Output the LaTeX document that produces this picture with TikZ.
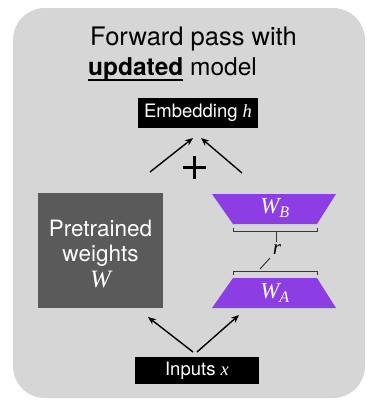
\documentclass[tikz,border=0pt]{standalone}
\usepackage{fontspec}
\setmainfont{TeX Gyre Heros}
\newfontfamily\mifont{Liberation Serif}
\newcommand\mv[1]{{\mifont\itshape #1}}
\newcommand\ulword[1]{\setbox0\hbox{#1}\rlap{\rule[-6pt]{\wd0}{1.9pt}}\box0\relax}
\usetikzlibrary{arrows.meta}
\definecolor{panel}{RGB}{214,214,214}
\definecolor{dgray}{RGB}{90,90,90}
\definecolor{lpurple}{RGB}{140,62,228}
\definecolor{brk}{RGB}{55,55,55}
\begin{document}
\begin{tikzpicture}[x=1pt,y=-1pt,
  blackbox/.style={fill=black,text=white,inner sep=0pt,font=\fontsize{18.5}{20}\selectfont},
  arr/.style={-{Stealth[length=8pt,width=6.5pt]},line width=1.4pt,black},
  brack/.style={line width=1pt,brk},
  trap/.style={fill=lpurple},
  wlab/.style={text=white,font=\fontsize{23}{25}\selectfont}]
\useasboundingbox (0,0) rectangle (367,400);
\fill[panel, rounded corners=32pt] (13,8) rectangle (365,398);
% title
\node[anchor=base west,inner sep=0pt,font=\fontsize{25.5}{29}\selectfont] (t1) at (90,45) {Forward pass with};
\node[anchor=base west,inner sep=0pt,font=\fontsize{24.5}{29}\selectfont] (t2) at (88,75) {\ulword{\textbf{updated}} model};
% embedding
\node[blackbox,minimum width=120pt,minimum height=30pt] (emb) at (198,113) {Embedding \mv{h}};
% plus
\node[minimum size=22pt,inner sep=0pt] (plus) at (194.5,167.5) {};
\draw[line width=2.3pt] (plus.west) -- (plus.east) (plus.north) -- (plus.south);
% pretrained
\node[fill=dgray,minimum width=125pt,minimum height=115pt,inner sep=0pt] (W) at (100.5,250.5) {};
\node[text=white,align=center,inner sep=0pt,font=\fontsize{22.5}{25}\selectfont] (Wt) at (100.5,254) {Pretrained\\weights\\[1pt]{\fontsize{25}{25}\selectfont\mv{W}}};
% trapezoids
\fill[trap] (212,194) -- (336,194) -- (317,224) -- (233,224) -- cycle;
\node[wlab] (WB) at (275,208) {\mv{W}\textsubscript{\mv{B}}};
\fill[trap] (233,278) -- (317,278) -- (336,308) -- (212,308) -- cycle;
\node[wlab] (WA) at (275,293) {\mv{W}\textsubscript{\mv{A}}};
% brackets
\draw[brack] (233,228) -- (233,231) -- (317,231) -- (317,228);
\draw[brack] (276,231) -- (276,242);
\node[inner sep=0pt,font=\fontsize{21}{22}\selectfont] (r) at (277,250) {\mv{r}};
\draw[brack] (233,275) -- (233,271) -- (317,271) -- (317,275);
\draw[brack] (260,269) -- (270,258);
% inputs
\node[blackbox,minimum width=124pt,minimum height=27pt] (in) at (197,370.5) {Inputs \mv{x}};
% arrows
\coordinate (a1s) at (150,172);
\coordinate (a1e) at (193,138);
\coordinate (a2s) at (242,173);
\coordinate (a2e) at (201,138);
\draw[arr] (a1s) -- (a1e);
\draw[arr] (a2s) -- (a2e);
\coordinate (b1s) at (193,352);
\coordinate (b1e) at (148,317);
\coordinate (b2s) at (197,352);
\coordinate (b2e) at (239,315);
\draw[arr] (b1s) -- (b1e);
\draw[arr] (b2s) -- (b2e);
\end{tikzpicture}
\end{document}
